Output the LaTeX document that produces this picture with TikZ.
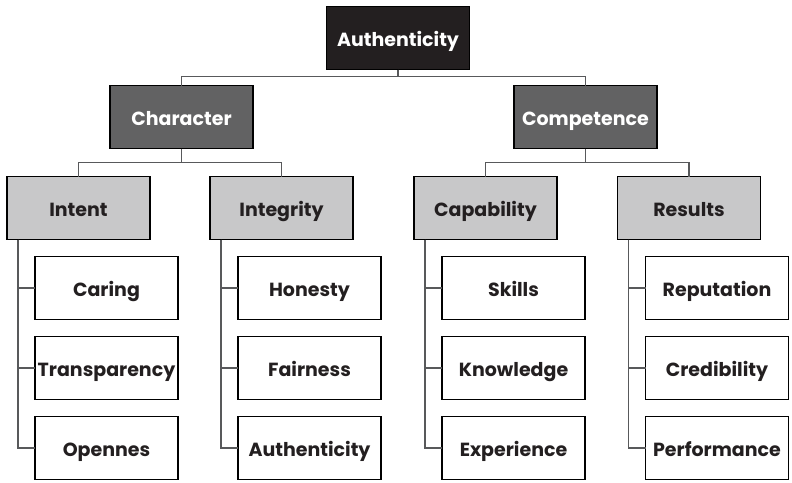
\documentclass[tikz,border=0pt]{standalone}
\usepackage{xcolor}
\usepackage{fontspec}
\setmainfont{Poppins}
\usepackage{tikz}
\usetikzlibrary{positioning}
\definecolor{rootgray}{HTML}{231F20}
\definecolor{midgray}{HTML}{626263}
\definecolor{lightgray}{HTML}{C8C8C9}
\definecolor{linegray}{HTML}{58595B}
\tikzstyle{box}=[rectangle, draw=black, line width=1.2pt, minimum width=143pt, minimum height=63pt,
        inner sep=0pt, outer sep=0pt, text height=17pt, text depth=1pt, text centered,
        font=\fontsize{19}{22}\selectfont\bfseries, text=rootgray]
\tikzstyle{top}=[box, fill=rootgray, text=white]
\tikzstyle{group}=[box, fill=midgray, text=white]
\tikzstyle{facet}=[box, fill=lightgray]
\tikzstyle{item}=[box, fill=white]
\tikzstyle{link}=[draw=linegray, line width=1.6pt]

\begin{document}
\begin{tikzpicture}[node distance=17pt]
        \useasboundingbox (0pt,0pt) rectangle (792pt,-482pt);
        \node (Root) [top] at (398pt,-38pt) {Authenticity};
        \node (Character) [group, below=16pt of Root, xshift=-216.5pt] {Character};
        \node (Competence) [group, below=16pt of Root, xshift=187.5pt] {Competence};
        % third row
        \node (Intent) [facet, below=28pt of Character, xshift=-103pt] {Intent};
        \node (Integrity) [facet, below=28pt of Character, xshift=100pt] {Integrity};
        \node (Capability) [facet, below=28pt of Competence, xshift=-100pt] {Capability};
        \node (Results) [facet, below=28pt of Competence, xshift=103.5pt] {Results};
        % leaves
        \node (Caring) [item, below=of Intent, xshift=28pt] {Caring};
        \node (Transparency) [item, below=of Caring] {Transparency};
        \node (Opennes) [item, below=of Transparency] {Opennes};
        \node (Honesty) [item, below=of Integrity, xshift=28pt] {Honesty};
        \node (Fairness) [item, below=of Honesty] {Fairness};
        \node (Authenticity) [item, below=of Fairness] {Authenticity};
        \node (Skills) [item, below=of Capability, xshift=28pt] {Skills};
        \node (Knowledge) [item, below=of Skills] {Knowledge};
        \node (Experience) [item, below=of Knowledge] {Experience};
        \node (Reputation) [item, below=of Results, xshift=28pt] {Reputation};
        \node (Credibility) [item, below=of Reputation] {Credibility};
        \node (Performance) [item, below=of Credibility] {Performance};
        % connectors
        \draw[link] (Root.south) -- ++(0,-7pt) -| (Character.north);
        \draw[link] (Root.south) -- ++(0,-7pt) -| (Competence.north);
        \draw[link] (Character.south) -- ++(0,-14pt) -| (Intent.north);
        \draw[link] (Character.south) -- ++(0,-14pt) -| (Integrity.north);
        \draw[link] (Competence.south) -- ++(0,-14pt) -| (Capability.north);
        \draw[link] (Competence.south) -- ++(0,-14pt) -| (Results.north);
        \foreach \p/\a/\b/\c in {Intent/Caring/Transparency/Opennes,
                Integrity/Honesty/Fairness/Authenticity,
                Capability/Skills/Knowledge/Experience,
                Results/Reputation/Credibility/Performance}
        {
          \draw[link] ([xshift=11pt]\p.south west) |- (\c.west);
          \draw[link] ([xshift=11pt]\p.south west) |- (\a.west);
          \draw[link] ([xshift=11pt]\p.south west) |- (\b.west);
        }
\end{tikzpicture}
\end{document}
